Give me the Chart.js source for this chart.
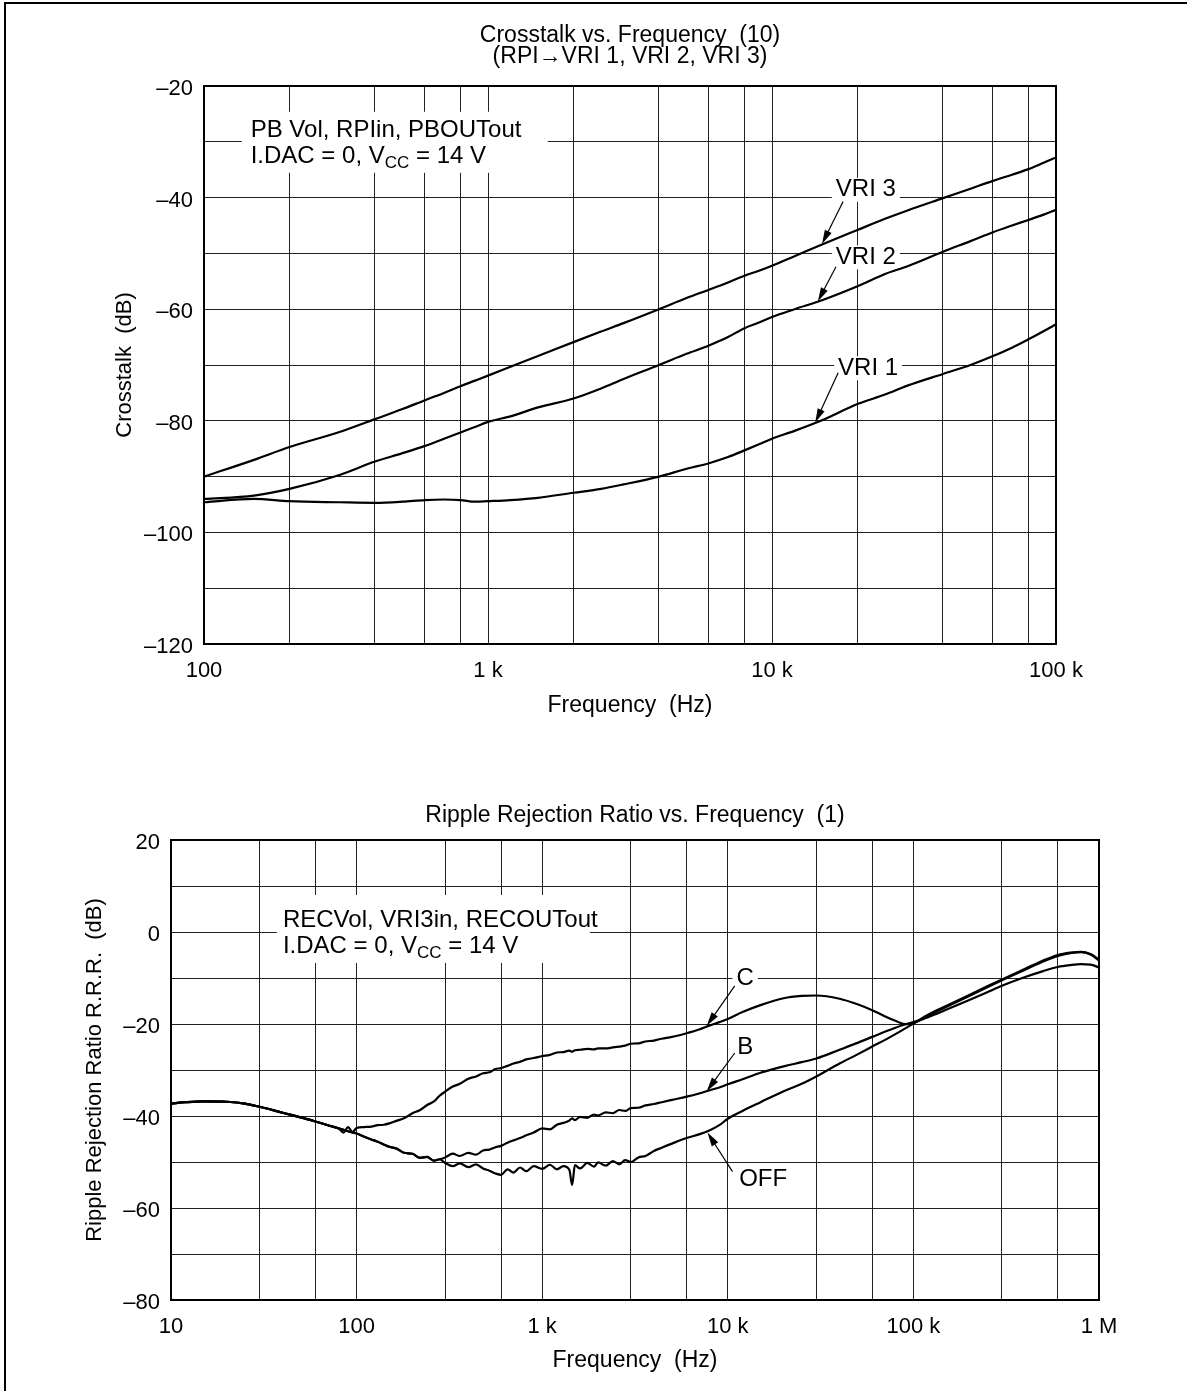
<!DOCTYPE html>
<html>
<head>
<meta charset="utf-8">
<title>Crosstalk / Ripple Rejection vs. Frequency</title>
<script src="https://cdn.jsdelivr.net/npm/chart.js@4.4.1/dist/chart.umd.min.js"></script>
<style>
  html, body { margin: 0; padding: 0; background: #fff; }
  #page { position: relative; width: 1187px; height: 1391px; overflow: hidden; }
  #frame { position: absolute; left: 4px; top: 2px; width: 1300px; height: 1500px;
           border-left: 2px solid #000; border-top: 2px solid #000; }
  canvas { position: absolute; left: 0; }
  #xtalk { top: 0; }
  #rrr { top: 740px; }
</style>
</head>
<body>
<div id="page">
  <div id="frame"></div>
  <canvas id="xtalk" width="1187" height="740"></canvas>
  <canvas id="rrr" width="1187" height="651"></canvas>
</div>
<script>
// ---- Crosstalk vs. Frequency (10) ----
const xtalkFreq = [100, 150, 200, 300, 400, 500, 600, 700, 800, 900,
  1000, 1200, 1500, 2000, 2500, 3000, 4000, 5000, 6000, 7000,
  8000, 9000, 10000, 12000, 15000, 20000, 25000, 30000, 40000, 50000,
  60000, 70000, 80000, 90000, 100000];
const vri3 = [-90.0, -87.0, -84.7, -82.0, -79.7, -77.9, -76.3, -75.0, -73.8, -72.8,
  -71.9, -70.3, -68.4, -65.9, -64.0, -62.5, -60.0, -58.0, -56.5, -55.2,
  -54.0, -53.1, -52.2, -50.5, -48.4, -45.8, -43.8, -42.3, -40.1, -38.4,
  -37.0, -35.9, -34.9, -33.8, -32.8];
const vri2 = [-94.0, -93.4, -92.2, -89.7, -87.3, -85.8, -84.5, -83.2, -82.1, -81.1,
  -80.2, -79.2, -77.6, -76.0, -74.2, -72.5, -70.0, -68.0, -66.5, -65.0,
  -63.4, -62.4, -61.4, -60.0, -58.4, -55.9, -53.7, -52.3, -49.7, -47.8,
  -46.2, -45.0, -44.0, -43.1, -42.2];
const vri1 = [-94.6, -94.0, -94.4, -94.6, -94.7, -94.5, -94.2, -94.1, -94.2, -94.5,
  -94.4, -94.2, -93.8, -92.9, -92.2, -91.4, -90.0, -88.6, -87.6, -86.5,
  -85.3, -84.2, -83.2, -81.8, -79.9, -77.0, -75.3, -73.7, -71.6, -70.0,
  -68.4, -66.9, -65.4, -64.0, -62.7];
const xtalkGrid = [100, 200, 400, 600, 800, 1000, 2000, 4000, 6000, 8000,
  10000, 20000, 40000, 60000, 80000, 100000];
const xtalkDecades = [100, 1000, 10000, 100000];
const xtalkDecadeText = ['100', '1 k', '10 k', '100 k'];

// ---- Ripple Rejection Ratio vs. Frequency (1) ----
const rrrFreq = [10, 12, 15, 20, 25, 30, 40, 50, 60, 70,
  80, 85, 90, 95, 100, 110, 120, 130, 140, 150,
  165, 180, 200, 220, 240, 260, 280, 300, 330, 360,
  400, 440, 480, 520, 560, 600, 650, 700, 760, 820,
  900, 1000, 1100, 1200, 1300, 1400, 1450, 1500, 1600, 1750,
  1900, 2000, 2200, 2400, 2600, 2800, 3000, 3300, 3600, 4000,
  4400, 5000, 6000, 7000, 8000, 9000, 10000, 12000, 15000, 20000,
  25000, 30000, 40000, 50000, 60000, 70000, 80000, 90000, 100000, 120000,
  150000, 200000, 250000, 300000, 400000, 500000, 600000, 700000, 800000, 900000,
  1000000];
const rrrC = [-37.3, -37.0, -36.8, -36.9, -37.3, -38.0, -39.3, -40.3, -41.2, -42.0,
  -42.7, -43.6, -42.4, -43.5, -42.6, -42.4, -42.3, -42.0, -41.9, -41.6,
  -41.0, -40.5, -39.4, -38.7, -37.6, -36.9, -35.6, -34.7, -33.6, -33.0,
  -31.9, -31.4, -30.7, -30.5, -29.8, -29.6, -29.1, -28.6, -28.2, -27.7,
  -27.4, -27.0, -26.7, -26.2, -26.1, -25.8, -26.0, -25.7, -25.6, -25.4,
  -25.5, -25.3, -25.3, -25.1, -24.9, -24.7, -24.3, -24.2, -23.8, -23.6,
  -23.2, -22.8, -22.0, -21.2, -20.3, -19.6, -18.9, -17.4, -15.9, -14.4,
  -13.9, -13.8, -14.5, -15.7, -17.0, -18.3, -19.3, -20.0, -19.8, -18.2,
  -16.3, -13.9, -12.0, -10.5, -8.2, -6.4, -5.2, -4.6, -4.4, -4.9,
  -6.2];
const rrrB = [-37.3, -37.0, -36.8, -36.9, -37.3, -38.0, -39.3, -40.3, -41.2, -42.0,
  -42.7, -43.0, -43.3, -43.6, -43.8, -44.5, -45.1, -45.6, -46.2, -46.7,
  -47.1, -48.0, -48.2, -49.1, -48.9, -49.7, -49.4, -49.0, -48.2, -48.7,
  -48.0, -48.4, -47.5, -47.3, -46.8, -46.5, -45.8, -45.3, -44.8, -44.2,
  -43.6, -42.7, -42.9, -41.9, -41.5, -41.0, -40.5, -40.9, -40.2, -40.4,
  -39.7, -39.9, -39.2, -39.4, -38.7, -38.9, -38.3, -38.2, -37.7, -37.4,
  -37.0, -36.5, -35.8, -35.1, -34.4, -33.8, -33.1, -32.0, -30.6, -29.2,
  -28.3, -27.5, -25.6, -24.1, -22.8, -21.7, -20.8, -20.1, -19.6, -18.5,
  -16.9, -14.8, -13.1, -11.7, -9.8, -8.5, -7.6, -7.2, -7.0, -7.1,
  -7.7];
const rrrOff = [-37.3, -37.0, -36.8, -36.9, -37.3, -38.0, -39.3, -40.3, -41.2, -42.0,
  -42.7, -43.0, -43.3, -43.6, -43.8, -44.5, -45.1, -45.6, -46.2, -46.7,
  -47.1, -48.0, -48.2, -49.1, -48.9, -49.7, -49.4, -50.2, -50.9, -50.3,
  -51.1, -50.5, -51.4, -51.9, -52.5, -52.8, -51.6, -52.3, -51.2, -52.0,
  -50.9, -51.5, -50.6, -51.6, -50.9, -51.7, -55.0, -50.7, -51.4, -50.2,
  -51.0, -50.1, -50.8, -49.8, -50.5, -49.6, -50.0, -49.0, -48.7, -47.6,
  -46.9, -46.0, -44.8, -44.0, -43.1, -42.0, -40.6, -38.9, -37.0, -34.6,
  -33.0, -31.4, -28.6, -26.6, -24.9, -23.5, -22.2, -21.0, -19.9, -18.0,
  -16.1, -13.7, -11.8, -10.3, -8.0, -6.2, -5.0, -4.5, -4.3, -4.8,
  -6.0];
const rrrGrid = [10, 30, 60, 100, 300, 600, 1000, 3000, 6000, 10000,
  30000, 60000, 100000, 300000, 600000, 1000000];
const rrrDecades = [10, 100, 1000, 10000, 100000, 1000000];
const rrrDecadeText = ['10', '100', '1 k', '10 k', '100 k', '1 M'];

const FONT = '"Liberation Sans", Arial, Helvetica, sans-serif';
Chart.defaults.font.family = FONT;
Chart.defaults.color = '#000';

function toPx(chart, pt) {
    return [chart.scales.x.getPixelForValue(pt[0]), chart.scales.y.getPixelForValue(pt[1])];
}

function drawArrow(ctx, x1, y1, x2, y2) {
    const a = Math.atan2(y2 - y1, x2 - x1);
    const c = Math.cos(a), s = Math.sin(a);
    ctx.beginPath();
    ctx.moveTo(x1, y1);
    ctx.lineTo(x2 - 10 * c, y2 - 10 * s);
    ctx.stroke();
    ctx.beginPath();
    ctx.moveTo(x2, y2);
    ctx.lineTo(x2 - 14 * c + 3.8 * s, y2 - 14 * s - 3.8 * c);
    ctx.lineTo(x2 - 14 * c - 3.8 * s, y2 - 14 * s + 3.8 * c);
    ctx.closePath();
    ctx.fill();
}

// white boxes under the notes, the notes and arrows on top of the curves
const notesPlugin = {
    id: 'notes',
    beforeDatasetsDraw(chart, args, opts) {
        const ctx = chart.ctx;
        ctx.save();
        ctx.fillStyle = '#fff';
        const n = opts.note;
        const [nx, ny] = toPx(chart, n.at);
        ctx.fillRect(nx + n.box[0], ny + n.box[1], n.box[2], n.box[3]);
        ctx.font = '24px ' + FONT;
        opts.tags.forEach(t => {
            const [tx, ty] = toPx(chart, t.at);
            const w = ctx.measureText(t.text).width;
            ctx.fillRect(tx - w / 2 - 4, ty - 12, w + 8, 24);
        });
        ctx.restore();
    },
    afterDatasetsDraw(chart, args, opts) {
        const ctx = chart.ctx;
        const {left, top, right, bottom} = chart.chartArea;
        ctx.save();
        ctx.strokeStyle = '#000';
        ctx.fillStyle = '#000';
        ctx.lineWidth = 2;
        ctx.strokeRect(left, top, right - left, bottom - top);

        const n = opts.note;
        const [nx, ny] = toPx(chart, n.at);
        ctx.textAlign = 'left';
        ctx.textBaseline = 'alphabetic';
        ctx.font = '24px ' + FONT;
        ctx.fillText(n.first, nx, ny);
        let x = nx;
        n.second.forEach(part => {
            ctx.font = (part.sub ? '17px ' : '24px ') + FONT;
            ctx.fillText(part.text, x, ny + 26 + (part.sub ? 5 : 0));
            x += ctx.measureText(part.text).width;
        });

        ctx.font = '24px ' + FONT;
        ctx.textAlign = 'center';
        ctx.textBaseline = 'middle';
        ctx.lineWidth = 1.2;
        opts.tags.forEach(t => {
            const [tx, ty] = toPx(chart, t.at);
            ctx.fillText(t.text, tx, ty);
            const [x1, y1] = toPx(chart, t.from);
            const [x2, y2] = toPx(chart, t.to);
            drawArrow(ctx, x1, y1, x2, y2);
        });
        ctx.restore();
    }
};

function buildChart(id, p) {
    const datasets = p.series.map(vals => ({
        data: p.freq.map((f, i) => ({x: f, y: vals[i]})),
        borderColor: '#000',
        borderWidth: 2.2,
        pointRadius: 0,
        fill: false,
        cubicInterpolationMode: 'monotone'
    }));

    return new Chart(document.getElementById(id), {
        type: 'line',
        data: {datasets: datasets},
        plugins: [notesPlugin],
        options: {
            responsive: false,
            animation: false,
            devicePixelRatio: 1,
            layout: {padding: {left: 0, right: p.padRight, top: 0, bottom: 0}},
            plugins: {
                legend: {display: false},
                tooltip: {enabled: false},
                title: {
                    display: true,
                    fullSize: false,
                    text: p.title,
                    color: '#000',
                    font: {size: 23, weight: 'normal', lineHeight: p.titleLine},
                    padding: {top: p.titleTop, bottom: p.titleBottom}
                },
                notes: {tags: p.tags, note: p.note}
            },
            scales: {
                x: {
                    type: 'logarithmic',
                    min: p.freqGrid[0],
                    max: p.freqGrid[p.freqGrid.length - 1],
                    afterBuildTicks: s => { s.ticks = p.freqGrid.map(v => ({value: v})); },
                    afterFit: s => { s.height = p.xAxisHeight; },
                    grid: {color: '#222', lineWidth: 1, drawTicks: false},
                    border: {display: false},
                    ticks: {
                        autoSkip: false,
                        maxRotation: 0,
                        padding: p.xTickPad,
                        color: '#000',
                        font: {size: 22, lineHeight: 1},
                        callback: v => {
                            const k = p.decades.indexOf(v);
                            return k >= 0 ? p.decadeText[k] : '';
                        }
                    },
                    title: {
                        display: true,
                        text: 'Frequency  (Hz)',
                        color: '#000',
                        font: {size: 23, lineHeight: 1},
                        padding: {top: 0, bottom: p.xTitleBottom}
                    }
                },
                y: {
                    min: p.yMin,
                    max: p.yMax,
                    afterFit: s => { s.width = p.yAxisWidth; },
                    grid: {color: '#222', lineWidth: 1, drawTicks: false},
                    border: {display: false},
                    ticks: {
                        stepSize: 10,
                        padding: 11,
                        labelOffset: 3,
                        color: '#000',
                        font: {size: 22, lineHeight: 1},
                        callback: v => (v % 20 === 0 ? String(v).replace('-', '\u2013') : '')
                    },
                    title: {
                        display: true,
                        text: p.yTitle,
                        color: '#000',
                        font: {size: 22, lineHeight: 1},
                        padding: {top: p.yTitleLeft, bottom: 0}
                    }
                }
            }
        }
    });
}

buildChart('xtalk', {
    freq: xtalkFreq,
    series: [vri1, vri2, vri3],
    freqGrid: xtalkGrid,
    decades: xtalkDecades,
    decadeText: xtalkDecadeText,
    yMin: -120, yMax: -20,
    title: ['Crosstalk vs. Frequency  (10)', '(RPI\u2192VRI 1, VRI 2, VRI 3)'],
    titleLine: 21 / 23, titleTop: 25.5, titleBottom: 18.5,
    yTitle: 'Crosstalk  (dB)',
    padRight: 131, xAxisHeight: 96, xTickPad: 15.5, xTitleBottom: 22.5,
    yAxisWidth: 204, yTitleLeft: 114,
    tags: [
        {text: 'VRI 3', at: [21400, -38.6], from: [17800, -40.7], to: [15000, -48.3]},
        {text: 'VRI 2', at: [21400, -50.7], from: [16800, -52.4], to: [14500, -58.6]},
        {text: 'VRI 1', at: [21800, -70.6], from: [17100, -71.4], to: [14200, -80.3]}
    ],
    note: {
        at: [146, -29.1],
        box: [-9, -25, 306, 61],
        first: 'PB Vol, RPIin, PBOUTout',
        second: [{text: 'I.DAC = 0, V'}, {text: 'CC', sub: true}, {text: ' = 14 V'}]
    }
});

buildChart('rrr', {
    freq: rrrFreq,
    series: [rrrC, rrrB, rrrOff],
    freqGrid: rrrGrid,
    decades: rrrDecades,
    decadeText: rrrDecadeText,
    yMin: -80, yMax: 20,
    title: 'Ripple Rejection Ratio vs. Frequency  (1)',
    titleLine: 1, titleTop: 64, titleBottom: 13,
    yTitle: 'Ripple Rejection Ratio R.R.R.  (dB)',
    padRight: 88, xAxisHeight: 91, xTickPad: 15.5, xTitleBottom: 18.5,
    yAxisWidth: 171, yTitleLeft: 84,
    tags: [
        {text: 'C', at: [12400, -10.0], from: [10900, -11.7], to: [7700, -20.4]},
        {text: 'B', at: [12400, -25.0], from: [10900, -26.3], to: [7700, -34.6]},
        {text: 'OFF', at: [15500, -53.8], from: [10600, -52.1], to: [7770, -43.6]}
    ],
    note: {
        at: [40.1, 1.1],
        box: [-6, -32, 313, 68],
        first: 'RECVol, VRI3in, RECOUTout',
        second: [{text: 'I.DAC = 0, V'}, {text: 'CC', sub: true}, {text: ' = 14 V'}]
    }
});
</script>
</body>
</html>
